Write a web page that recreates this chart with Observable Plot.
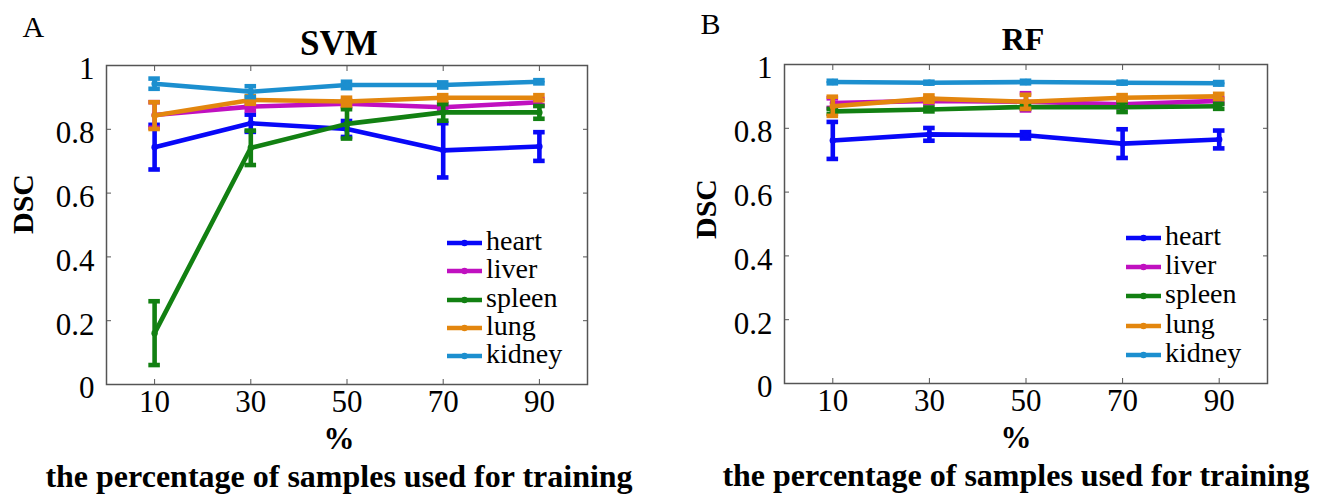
<!DOCTYPE html>
<html>
<head>
<meta charset="utf-8">
<script src="https://cdn.jsdelivr.net/npm/d3@7"></script>
<script src="https://cdn.jsdelivr.net/npm/@observablehq/plot@0.6"></script>
<style>
  html, body { margin: 0; padding: 0; background: #fff; }
  #wrap { position: relative; width: 1329px; height: 495px; overflow: hidden; background: #fff;
          font-family: 'Liberation Serif', 'Times New Roman', serif; }
  .panel { position: absolute; top: 0; }
  .legend { position: absolute; }
  .row { position: absolute; left: 0; height: 26px; white-space: nowrap; }
  .row svg { position: absolute; left: 0; top: 0; }
  .row span { position: absolute; top: 0px; font-family: 'Liberation Serif', 'Times New Roman', serif;
              font-size: 28px; line-height: 26px; color: #000; }
  svg text { font-family: 'Liberation Serif', 'Times New Roman', serif; }
</style>
</head>
<body>
<div id="wrap"></div>
<script>
// ---------- data ----------
const percents = [10, 30, 50, 70, 90];
const organs = ["heart", "liver", "spleen", "lung", "kidney"];
const organColors = ["#0808f8", "#c010c0", "#128012", "#e3860e", "#1c8fcf"];
const yTicks = [0, 0.2, 0.4, 0.6, 0.8, 1];

// SVM means and error half-widths
const svmHeart = [0.744, 0.819, 0.801, 0.734, 0.746];
const svmHeartErr = [0.070, 0.027, 0.025, 0.085, 0.045];
const svmLiver = [0.845, 0.871, 0.880, 0.869, 0.885];
const svmLiverErr = [0.040, 0.012, 0.010, 0.010, 0.010];
const svmSpleen = [0.161, 0.742, 0.817, 0.853, 0.853];
const svmSpleenErr = [0.100, 0.054, 0.046, 0.026, 0.020];
const svmLung = [0.843, 0.892, 0.887, 0.899, 0.899];
const svmLungErr = [0.042, 0.012, 0.012, 0.008, 0.008];
const svmKidney = [0.943, 0.918, 0.939, 0.939, 0.949];
const svmKidneyErr = [0.016, 0.017, 0.010, 0.008, 0.005];

// RF means and error half-widths
const rfHeart = [0.762, 0.781, 0.778, 0.752, 0.765];
const rfHeartErr = [0.058, 0.020, 0.010, 0.045, 0.028];
const rfLiver = [0.879, 0.886, 0.883, 0.875, 0.886];
const rfLiverErr = [0.015, 0.008, 0.027, 0.010, 0.008];
const rfSpleen = [0.853, 0.859, 0.867, 0.866, 0.869];
const rfSpleenErr = [0.008, 0.006, 0.006, 0.015, 0.008];
const rfLung = [0.869, 0.893, 0.883, 0.896, 0.900];
const rfLungErr = [0.030, 0.010, 0.022, 0.008, 0.008];
const rfKidney = [0.945, 0.943, 0.945, 0.943, 0.941];
const rfKidneyErr = [0.004, 0.003, 0.004, 0.003, 0.004];

const svmSeries = [[svmHeart, svmHeartErr], [svmLiver, svmLiverErr], [svmSpleen, svmSpleenErr], [svmLung, svmLungErr], [svmKidney, svmKidneyErr]];
const rfSeries = [[rfHeart, rfHeartErr], [rfLiver, rfLiverErr], [rfSpleen, rfSpleenErr], [rfLung, rfLungErr], [rfKidney, rfKidneyErr]];

const FONT = "'Liberation Serif', 'Times New Roman', serif";
const CAP = 1.2;   // half cap width in x units
const SW = 4.6;    // line width

function rows(series) {
  return organs.map((o, i) => percents.map((p, j) => ({
    organ: o, x: p, y: series[i][0][j], e: series[i][1][j]
  })));
}

function panel(opts) {
  const groups = rows(opts.series);
  const marks = [];
  groups.forEach((g, i) => {
    const c = organColors[i];
    marks.push(Plot.line(g, {x: "x", y: "y", stroke: c, strokeWidth: SW}));
    marks.push(Plot.ruleX(g, {x: "x", y1: d => d.y - d.e, y2: d => d.y + d.e, stroke: c, strokeWidth: SW}));
    marks.push(Plot.ruleY(g, {y: d => d.y + d.e, x1: d => d.x - CAP, x2: d => d.x + CAP, stroke: c, strokeWidth: SW}));
    marks.push(Plot.ruleY(g, {y: d => d.y - d.e, x1: d => d.x - CAP, x2: d => d.x + CAP, stroke: c, strokeWidth: SW}));
    marks.push(Plot.dot(g, {x: "x", y: "y", fill: c, r: 3.2}));
  });
  return Plot.plot({
    width: opts.width, height: 495,
    marginLeft: opts.ml, marginRight: opts.mr, marginTop: opts.mt, marginBottom: opts.mb,
    style: {fontFamily: FONT, fontSize: "31px", color: "#000", background: "transparent", overflow: "visible"},
    x: {domain: [0, 100]},
    y: {domain: [0, 1]},
    marks: [
      Plot.frame({stroke: "#555", strokeWidth: 1.5}),
      // x axis: inward ticks top & bottom, labels bottom
      Plot.axisX(percents, {anchor: "bottom", tickSize: -5, tickPadding: 10, label: null, stroke: "#555", fill: "#000", fontFamily: FONT, fontSize: 31}),
      Plot.axisX(percents, {anchor: "top", tickSize: -5, label: null, tickFormat: () => "", stroke: "#555"}),
      // y axis: inward ticks left & right, labels left (slightly lowered)
      Plot.axisY(yTicks, {anchor: "left", tickSize: -5, label: null, tickFormat: () => "", stroke: "#555"}),
      Plot.axisY(yTicks, {anchor: "left", tickSize: 0, tickPadding: 12, dy: 4, label: null, tickFormat: d => String(d), fill: "#000", fontFamily: FONT, fontSize: 31}),
      Plot.axisY(yTicks, {anchor: "right", tickSize: -5, label: null, tickFormat: () => "", stroke: "#555"}),
      ...marks,
      Plot.text([opts.letter], {frameAnchor: "top-left", text: d => d, dx: opts.letterDx, dy: opts.letterDy, textAnchor: "start", lineAnchor: "middle", fontSize: 30, fontFamily: FONT}),
      Plot.text([opts.title], {frameAnchor: "top", text: d => d, dx: opts.titleDx, dy: opts.titleDy, lineAnchor: "middle", fontWeight: "bold", fontSize: opts.titleSize, fontFamily: FONT}),
      Plot.text(["DSC"], {frameAnchor: "left", text: d => d, dx: opts.dscDx, dy: opts.dscDy, rotate: -90, lineAnchor: "middle", fontWeight: "bold", fontSize: 30, fontFamily: FONT}),
      Plot.text(["%"], {frameAnchor: "bottom", text: d => d, dx: opts.capDx, dy: 55, lineAnchor: "middle", fontWeight: "bold", fontSize: 31, fontFamily: FONT}),
      Plot.text(["the percentage of samples used for training"], {frameAnchor: "bottom", text: d => d, dx: opts.capDx, dy: 92, lineAnchor: "middle", fontWeight: "bold", fontSize: 32, fontFamily: FONT})
    ]
  });
}

function legend(left, top, spacing) {
  const div = document.createElement("div");
  div.className = "legend";
  div.style.left = left + "px";
  div.style.top = top + "px";
  organs.forEach((o, i) => {
    const row = document.createElement("div");
    row.className = "row";
    row.style.top = (i * spacing) + "px";
    row.innerHTML = `<svg width="38" height="26"><line x1="1" x2="36" y1="15" y2="15" stroke="${organColors[i]}" stroke-width="${SW}"/><circle cx="18.5" cy="15" r="3.2" fill="${organColors[i]}"/></svg><span style="left:40px">${o}</span>`;
    div.appendChild(row);
  });
  return div;
}

const wrap = document.getElementById("wrap");

const a = panel({series: svmSeries, width: 664, ml: 106, mr: 77, mt: 65, mb: 111,
  letter: "A", letterDx: -84, letterDy: -38, title: "SVM", titleDx: -8, titleDy: -22, titleSize: 35,
  dscDx: -83, dscDy: 9, capDx: -8});
const pa = document.createElement("div"); pa.className = "panel"; pa.style.left = "0px"; pa.appendChild(a);
wrap.appendChild(pa);

const b = panel({series: rfSeries, width: 665, ml: 120, mr: 62, mt: 64, mb: 112,
  letter: "B", letterDx: -84, letterDy: -40, title: "RF", titleDx: -3, titleDy: -25, titleSize: 32,
  dscDx: -78, dscDy: 15, capDx: -10});
const pb = document.createElement("div"); pb.className = "panel"; pb.style.left = "664px"; pb.appendChild(b);
wrap.appendChild(pb);

wrap.appendChild(legend(446, 228, 28.3));
wrap.appendChild(legend(1125, 223, 29.2));
</script>
</body>
</html>
